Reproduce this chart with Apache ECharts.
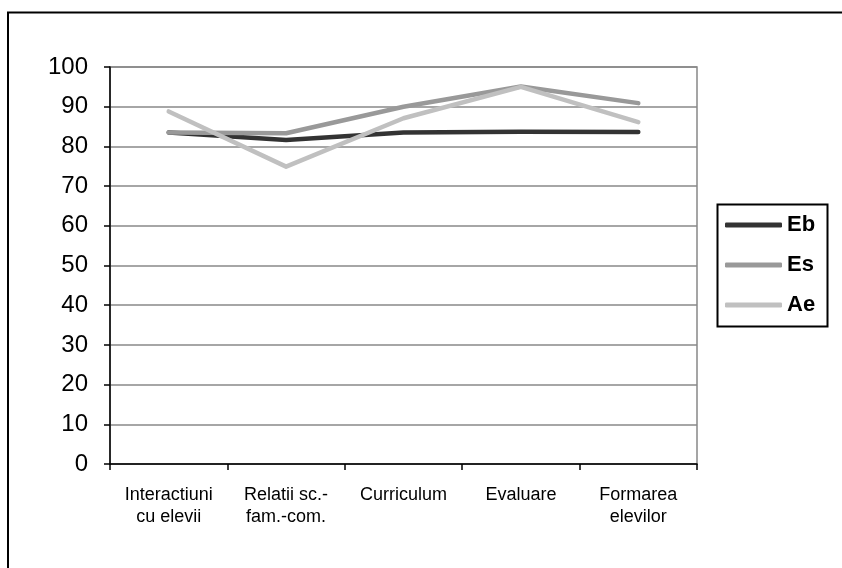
<!DOCTYPE html>
<html><head><meta charset="utf-8">
<script src="https://cdn.jsdelivr.net/npm/echarts@6/dist/echarts.min.js"></script>
<style>html,body{margin:0;padding:0;background:#fff}#c{width:842px;height:568px}</style>
</head><body><div id="c"></div>
<script>
const categories = ["Interactiuni\ncu elevii", "Relatii sc.-\nfam.-com.", "Curriculum", "Evaluare", "Formarea\nelevilor"];
const eb = [83.5, 81.6, 83.5, 83.7, 83.6];
const es = [83.5, 83.3, 90.0, 95.1, 90.9];
const ae = [88.8, 74.9, 87.1, 95.0, 86.1];
const yTicks = { min: 0, max: 100, interval: 10 };

const chart = echarts.init(document.getElementById('c'));
const font = 'Liberation Sans, Arial, sans-serif';
function mk(name, data, color) {
  return { name, type: 'line', data, symbol: 'none', smooth: false,
    lineStyle: { color, width: 4.5, cap: 'round', join: 'round' }, itemStyle: { color } };
}
chart.setOption({
  animation: false,
  backgroundColor: '#fff',
  graphic: [
    { type: 'polyline', shape: { points: [[8, 568], [8, 12.5], [842, 12.5]] },
      style: { fill: 'none', stroke: '#000', lineWidth: 2 } },
    { type: 'rect', shape: { x: 717.5, y: 204.5, width: 110, height: 122 },
      style: { fill: 'none', stroke: '#000', lineWidth: 2 } }
  ],
  grid: { left: 110, top: 67, width: 587, height: 397, show: true, borderColor: '#888', borderWidth: 1.5 },
  legend: {
    orient: 'vertical', left: 717, top: 204,
    data: ['Eb', 'Es', 'Ae'],
    icon: 'roundRect',
    itemWidth: 57, itemHeight: 5, itemGap: 18,
    padding: [10, 8, 10, 8],
    textStyle: { fontFamily: font, fontSize: 22, lineHeight: 22, fontWeight: 'bold', color: '#000' }
  },
  xAxis: {
    type: 'category', data: categories, boundaryGap: true,
    axisLine: { lineStyle: { color: '#000', width: 1.5 } },
    axisTick: { show: true, length: 6, lineStyle: { color: '#000', width: 1.5 } },
    axisLabel: { interval: 0, margin: 20, fontFamily: font, fontSize: 18, color: '#000', lineHeight: 22 },
    splitLine: { show: false }
  },
  yAxis: {
    type: 'value', min: yTicks.min, max: yTicks.max, interval: yTicks.interval,
    axisLine: { show: true, lineStyle: { color: '#000', width: 1.5 } },
    axisTick: { show: true, length: 6, lineStyle: { color: '#000', width: 1.5 } },
    axisLabel: { margin: 22, fontFamily: font, fontSize: 24, color: '#000' },
    splitLine: { show: true, lineStyle: { color: '#888', width: 1.5 } }
  },
  series: [mk('Eb', eb, '#333333'), mk('Es', es, '#999999'), mk('Ae', ae, '#c0c0c0')]
});
</script></body></html>
